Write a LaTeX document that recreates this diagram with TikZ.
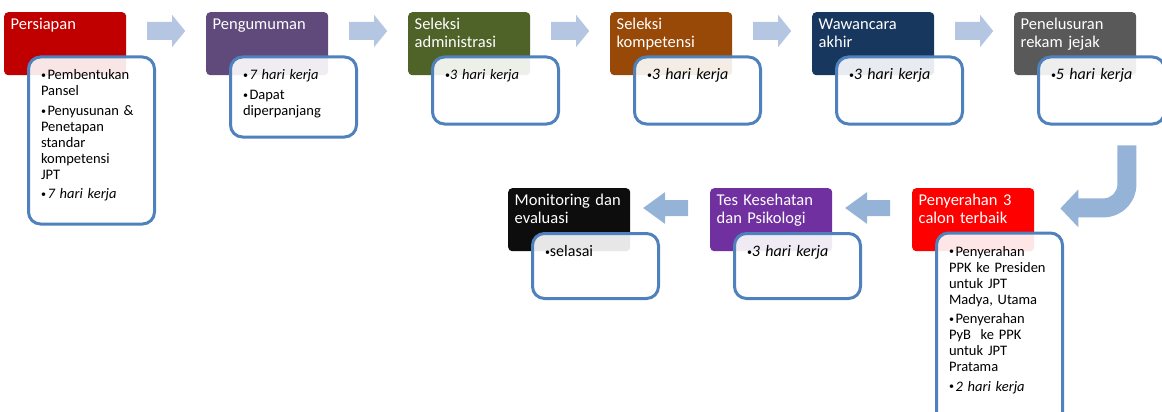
\documentclass[tikz,border=0pt]{standalone}
\usepackage{fontspec}
\setmainfont{Carlito}
\usetikzlibrary{positioning,calc}

\definecolor{cPersiapan}{HTML}{C00000}
\definecolor{cUmum}{HTML}{604A7B}
\definecolor{cAdmin}{HTML}{4F6228}
\definecolor{cKompetensi}{HTML}{984807}
\definecolor{cWawancara}{HTML}{17375E}
\definecolor{cRekam}{HTML}{595959}
\definecolor{cSerah}{HTML}{FF0000}
\definecolor{cTes}{HTML}{7030A0}
\definecolor{cMonev}{HTML}{0D0D0D}
\definecolor{boxblue}{HTML}{4F81BD}
\definecolor{arrowlight}{HTML}{B4C6E2}
\definecolor{arrowdark}{HTML}{95B3D7}

\newcommand{\dotb}{{\fontsize{10}{10}\selectfont\raisebox{1.2pt}{\textbullet}}}
\newcommand{\itm}{\hangindent=6.5pt\hangafter=1\makebox[6.5pt][l]{\dotb}}
\newcommand{\nxt}{\par\vspace{3.5pt}}

\tikzset{
  header/.style={rectangle, rounded corners=4pt, text=white, inner xsep=6.5pt, inner ysep=4pt, text width=109pt, text height=13pt, text depth=42pt, align=left, font=\fontsize{16.5}{18}\selectfont},
  detail/.style={rectangle, rounded corners=12pt, draw=boxblue, line width=3pt, fill=white, fill opacity=0.9, text opacity=1, inner xsep=12.5pt, inner ysep=4pt, text width=101pt, text height=19pt, align=left, font=\fontsize{14.5}{16}\selectfont},
  bigtext/.style={font=\fontsize{16}{18}\selectfont},
  stepright/.style={fill=arrowlight},
  stepleft/.style={fill=arrowdark}
}

\begin{document}
\begin{tikzpicture}[x=1pt, y=1pt]
    \clip (0,0) rectangle (1162,-412);

    % Top row headers
    \node (h1) [header, fill=cPersiapan, anchor=north west] at (4,-12) {Persiapan};
    \node (h2) [header, fill=cUmum, right=79.6pt of h1] {Pengumuman};
    \node (h3) [header, fill=cAdmin, right=79.6pt of h2] {Seleksi\\administrasi};
    \node (h4) [header, fill=cKompetensi, right=79.6pt of h3] {Seleksi\\kompetensi};
    \node (h5) [header, fill=cWawancara, right=79.6pt of h4] {Wawancara\\akhir};
    \node (h6) [header, fill=cRekam, right=79.6pt of h5] {Penelusuran\\rekam jejak};

    % Bottom row headers
    \node (h9) [header, fill=cSerah, anchor=north west] at (912,-188) {Penyerahan 3\\calon terbaik};
    \node (h8) [header, fill=cTes, left=79.6pt of h9] {Tes Kesehatan\\dan Psikologi};
    \node (h7) [header, fill=cMonev, left=79.6pt of h8] {Monitoring dan\\evaluasi};

    % Arrows, top row
    \fill[stepright] ($(h1.north east)!0.5!(h2.north west)+(-19,-10)$) -- ++(25,0) -- ++(0,7) -- ++(13,-16) -- ++(-13,-16) -- ++(0,7) -- ++(-25,0) -- cycle;
    \fill[stepright] ($(h2.north east)!0.5!(h3.north west)+(-19,-10)$) -- ++(25,0) -- ++(0,7) -- ++(13,-16) -- ++(-13,-16) -- ++(0,7) -- ++(-25,0) -- cycle;
    \fill[stepright] ($(h3.north east)!0.5!(h4.north west)+(-19,-10)$) -- ++(25,0) -- ++(0,7) -- ++(13,-16) -- ++(-13,-16) -- ++(0,7) -- ++(-25,0) -- cycle;
    \fill[stepright] ($(h4.north east)!0.5!(h5.north west)+(-19,-10)$) -- ++(25,0) -- ++(0,7) -- ++(13,-16) -- ++(-13,-16) -- ++(0,7) -- ++(-25,0) -- cycle;
    \fill[stepright] ($(h5.north east)!0.5!(h6.north west)+(-19,-10)$) -- ++(25,0) -- ++(0,7) -- ++(13,-16) -- ++(-13,-16) -- ++(0,7) -- ++(-25,0) -- cycle;

    % Turn down to the bottom row
    \fill[stepleft] ($(h6.south east)+(0,-70)$) -- ++(0,-39) arc[start angle=0, end angle=-90, radius=33] -- ++(-25,0) -- ++(0,-10) -- ++(-18,19) -- ++(18,19) -- ++(0,-9) -- ++(25,0) arc[start angle=-90, end angle=0, radius=14] -- ++(0,39) -- cycle;

    % Arrows, bottom row
    \fill[stepleft] ($(h8.north east)!0.5!(h9.north west)+(18,-12)$) -- ++(-23,0) -- ++(0,8) -- ++(-22,-16) -- ++(22,-16) -- ++(0,8) -- ++(23,0) -- cycle;
    \fill[stepleft] ($(h7.north east)!0.5!(h8.north west)+(18,-12)$) -- ++(-23,0) -- ++(0,8) -- ++(-22,-16) -- ++(22,-16) -- ++(0,8) -- ++(23,0) -- cycle;

    % Detail boxes
    \node (d1) [detail, text depth=140pt, below right=43.5pt and 23pt of h1.north west] {\itm Pembentukan\\Pansel\nxt\itm Penyusunan \&\\Penetapan\\standar\\kompetensi\\JPT\nxt\itm\textit{7 hari kerja}};
    \node (d2) [detail, text depth=53pt, below right=43.5pt and 23pt of h2.north west] {\itm\textit{7 hari kerja}\nxt\itm Dapat\\diperpanjang};
    \node (d3) [detail, text depth=40pt, below right=43.5pt and 23pt of h3.north west] {\dotb\textit{3 hari kerja}};
    \node (d4) [detail, bigtext, text depth=40pt, below right=43.5pt and 23pt of h4.north west] {\dotb\textit{3 hari kerja}};
    \node (d5) [detail, bigtext, text depth=40pt, below right=43.5pt and 23pt of h5.north west] {\dotb\textit{3 hari kerja}};
    \node (d6) [detail, bigtext, text depth=40pt, below right=43.5pt and 23pt of h6.north west] {\dotb\textit{5 hari kerja}};
    \node (d7) [detail, bigtext, text depth=38pt, below right=44pt and 23pt of h7.north west] {\dotb selasai};
    \node (d8) [detail, bigtext, text depth=38pt, below right=44pt and 23pt of h8.north west] {\dotb\textit{3 hari kerja}};
    \node (d9) [detail, text depth=200pt, below right=43.5pt and 23pt of h9.north west] {\itm Penyerahan\\PPK ke Presiden\\untuk JPT\\Madya, Utama\nxt\itm Penyerahan\\PyB\ \ ke PPK\\untuk JPT\\Pratama\nxt\itm\textit{2 hari kerja}};
\end{tikzpicture}
\end{document}
